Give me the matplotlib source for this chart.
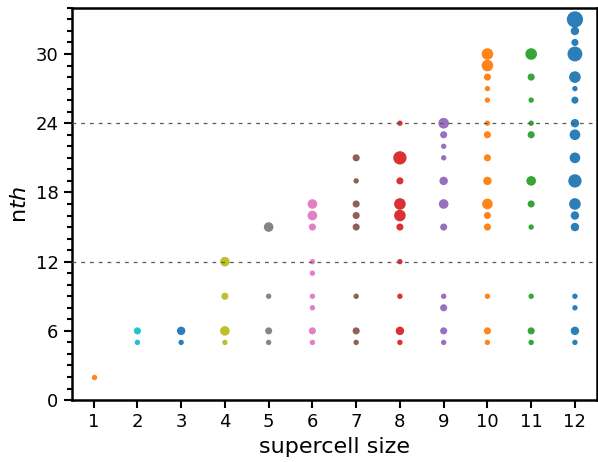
import matplotlib
matplotlib.use("Agg")
import matplotlib.pyplot as plt
from matplotlib.ticker import MultipleLocator

# nth values found for each supercell size, with how many times each was hit
data = {
    1: ([2], [1]),
    2: ([6, 5], [2, 1]),
    3: ([6, 5], [3, 1]),
    4: ([12, 9, 6, 5], [4, 2, 4, 1]),
    5: ([15, 9, 6, 5], [4, 1, 2, 1]),
    6: ([17, 16, 15, 12, 11, 9, 8, 6, 5], [4, 4, 2, 1, 1, 1, 1, 2, 1]),
    7: ([21, 19, 17, 16, 15, 9, 6, 5], [2, 1, 2, 2, 2, 1, 2, 1]),
    8: ([24, 21, 19, 17, 16, 15, 12, 9, 6, 5], [1, 8, 2, 6, 6, 2, 1, 1, 3, 1]),
    9: ([24, 23, 22, 21, 19, 17, 15, 9, 8, 6, 5], [5, 2, 1, 1, 3, 4, 2, 1, 2, 2, 1]),
    10: ([30, 29, 28, 27, 26, 24, 23, 21, 19, 17, 16, 15, 9, 6, 5],
         [6, 6, 2, 1, 1, 1, 2, 2, 3, 5, 2, 2, 1, 2, 1]),
    11: ([30, 28, 26, 24, 23, 19, 17, 15, 9, 6, 5],
         [6, 2, 1, 1, 2, 4, 2, 1, 1, 2, 1]),
    12: ([33, 32, 31, 30, 28, 27, 26, 24, 23, 21, 19, 17, 16, 15, 9, 8, 6, 5],
         [12, 3, 2, 10, 6, 1, 2, 3, 5, 5, 8, 6, 3, 3, 1, 1, 3, 1]),
}
# order in which the sizes were plotted (sets the colour cycle)
plot_order = [12, 10, 11, 8, 9, 7, 6, 5, 4, 2, 3, 1]

fig = plt.figure(figsize=(5.98, 4.62), dpi=100)
ax = fig.add_axes([0.120, 0.134, 0.878, 0.849])

for n in plot_order:
    ys, counts = data[n]
    ax.scatter([n] * len(ys), ys, s=[4 + 11 * c for c in counts], alpha=0.95, linewidths=0)

for yl in (12, 24):
    ax.axhline(yl, color="0.35", ls=(0, (3, 4)), lw=0.9, zorder=3)

ax.set_xlim(0.5, 12.5)
ax.set_ylim(0, 34)
ax.set_xticks(range(1, 13))
ax.yaxis.set_major_locator(MultipleLocator(6))
ax.yaxis.set_minor_locator(MultipleLocator(1))
ax.tick_params(which="major", length=6, width=1.5, labelsize=13)
ax.tick_params(which="minor", length=3.5, width=1.5)
for sp in ax.spines.values():
    sp.set_linewidth(1.8)

ax.set_xlabel("supercell size", fontsize=16)
ax.set_ylabel(r"n$th$", fontsize=16)

fig.savefig("out.png", dpi=100)
